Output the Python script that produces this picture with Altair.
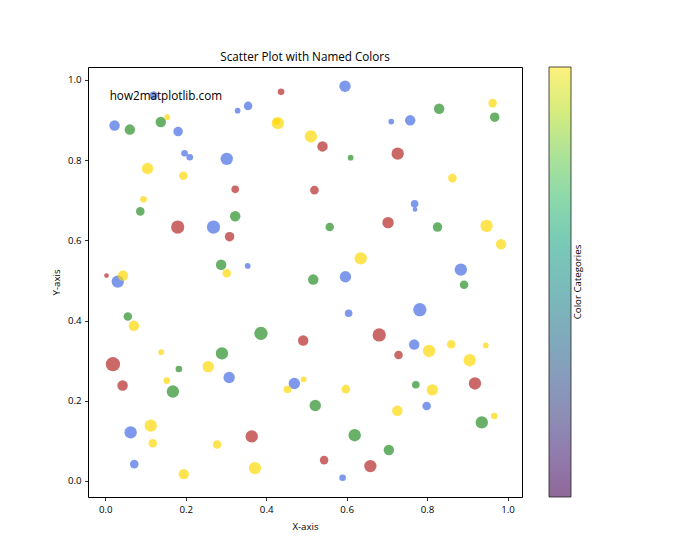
import altair as alt
import pandas as pd

TITLE = "Scatter Plot with Named Colors"
WATERMARK = "how2matplotlib.com"
X_TITLE = "X-axis"
Y_TITLE = "Y-axis"
CB_TITLE = "Color Categories"

red_x = [0.437, 0.323, 0.180, 0.309, 0.003, 0.540, 0.727, 0.520, 0.703, 0.492, 0.019, 0.043, 0.364, 0.681, 0.729, 0.919, 0.544, 0.659]
red_y = [0.970, 0.727, 0.633, 0.609, 0.512, 0.834, 0.816, 0.725, 0.644, 0.350, 0.291, 0.238, 0.111, 0.364, 0.314, 0.243, 0.052, 0.037]
red_s = [52, 68, 207, 106, 26, 128, 179, 86, 152, 128, 238, 128, 179, 207, 86, 179, 86, 179]

blue_x = [0.120, 0.329, 0.355, 0.023, 0.181, 0.197, 0.210, 0.302, 0.269, 0.354, 0.031, 0.308, 0.470, 0.063, 0.072, 0.596, 0.711, 0.758, 0.769, 0.770, 0.884, 0.597, 0.605, 0.782, 0.768, 0.799, 0.590]
blue_y = [0.961, 0.923, 0.935, 0.886, 0.871, 0.817, 0.807, 0.803, 0.633, 0.536, 0.497, 0.258, 0.243, 0.121, 0.042, 0.984, 0.896, 0.899, 0.691, 0.677, 0.527, 0.509, 0.418, 0.427, 0.340, 0.187, 0.008]
blue_s = [86, 38, 86, 128, 106, 52, 52, 179, 207, 38, 179, 152, 152, 179, 86, 152, 38, 128, 68, 26, 179, 152, 68, 207, 128, 86, 52]

green_x = [0.138, 0.061, 0.087, 0.323, 0.288, 0.056, 0.387, 0.290, 0.183, 0.168, 0.830, 0.968, 0.610, 0.558, 0.826, 0.517, 0.892, 0.772, 0.522, 0.936, 0.620, 0.705]
green_y = [0.895, 0.876, 0.672, 0.660, 0.539, 0.410, 0.368, 0.318, 0.279, 0.223, 0.928, 0.907, 0.806, 0.633, 0.633, 0.502, 0.489, 0.240, 0.188, 0.146, 0.114, 0.077]
green_s = [128, 128, 86, 128, 128, 86, 207, 179, 52, 179, 128, 106, 38, 86, 106, 128, 86, 68, 152, 179, 179, 128]

yellow_x = [0.154, 0.429, 0.425, 0.511, 0.105, 0.194, 0.095, 0.302, 0.044, 0.071, 0.139, 0.256, 0.153, 0.453, 0.493, 0.113, 0.118, 0.278, 0.195, 0.372, 0.963, 0.863, 0.948, 0.984, 0.635, 0.805, 0.860, 0.946, 0.906, 0.598, 0.813, 0.726, 0.967]
yellow_y = [0.907, 0.892, 0.896, 0.859, 0.779, 0.761, 0.702, 0.518, 0.512, 0.387, 0.321, 0.285, 0.250, 0.228, 0.253, 0.138, 0.094, 0.091, 0.017, 0.032, 0.942, 0.755, 0.636, 0.590, 0.555, 0.324, 0.341, 0.338, 0.301, 0.229, 0.227, 0.175, 0.162]
yellow_s = [38, 179, 52, 179, 152, 86, 52, 86, 128, 128, 38, 152, 52, 68, 38, 179, 86, 86, 128, 179, 86, 86, 179, 128, 179, 179, 86, 38, 179, 86, 152, 128, 52]

categories = ["firebrick", "royalblue", "forestgreen", "gold"]
cb_values = [0.0, 1.0]

# styles
FONT = "Open Sans"
CAT_COLORS = ["firebrick", "royalblue", "forestgreen", "gold"]
VIRIDIS_FADED = ["#8f6798", "#917cac", "#8d8fb7", "#869fbb", "#7faebb", "#7abdba",
                 "#7acbb5", "#8fd9a9", "#afe397", "#d7ec7d", "#fef17c"]
VIRIDIS_STOPS = [i / 10 for i in range(11)]

frames = []
for cat, xs, ys, ss in [("firebrick", red_x, red_y, red_s), ("royalblue", blue_x, blue_y, blue_s),
                        ("forestgreen", green_x, green_y, green_s), ("gold", yellow_x, yellow_y, yellow_s)]:
    frames.append(pd.DataFrame({"x": xs, "y": ys, "s": ss, "cat": cat}))
df = pd.concat(frames, ignore_index=True)

W, H = 434, 430
CB_X, CB_W = 461, 22
xscale = alt.Scale(domain=[-0.043, 1.036], nice=False, zero=False)
yscale = alt.Scale(domain=[-0.040, 1.032], nice=False, zero=False)

points = alt.Chart(df).mark_circle(opacity=0.68).encode(
    x=alt.X("x:Q", scale=xscale, title=X_TITLE,
            axis=alt.Axis(values=[0, 0.2, 0.4, 0.6, 0.8, 1.0], format=".1f", grid=False, domain=False,
                          tickSize=3.5, tickWidth=0.8, tickColor="black", labelPadding=3.5,
                          titlePadding=8)),
    y=alt.Y("y:Q", scale=yscale, title=Y_TITLE,
            axis=alt.Axis(values=[0, 0.2, 0.4, 0.6, 0.8, 1.0], format=".1f", grid=False, domain=False,
                          tickSize=3.5, tickWidth=0.8, tickColor="black", labelPadding=3.5,
                          titlePadding=6)),
    color=alt.Color("cat:N", scale=alt.Scale(domain=categories, range=CAT_COLORS), legend=None),
    size=alt.Size("s:Q", scale=alt.Scale(type="linear", domain=[0, 240], range=[0, 205], zero=True), legend=None),
)

colorbar = alt.Chart(pd.DataFrame({"v": cb_values})).mark_point(opacity=0, size=0).encode(
    color=alt.Color("v:Q",
                    scale=alt.Scale(domain=VIRIDIS_STOPS, range=VIRIDIS_FADED),
                    legend=alt.Legend(orient="none", legendX=CB_X, legendY=0, direction="vertical",
                                      gradientLength=H, gradientThickness=CB_W,
                                      labelOpacity=0, labelFontSize=1, labelPadding=0,
                                      title=None, gradientStrokeColor="#222",
                                      gradientStrokeWidth=0.8)),
)

cb_label = alt.Chart(pd.DataFrame({"t": [CB_TITLE]})).mark_text(
    angle=270, align="center", baseline="middle", font=FONT, fontSize=9.7, color="black"
).encode(x=alt.value(CB_X + CB_W + 7), y=alt.value(H / 2), text="t:N")

text = alt.Chart(pd.DataFrame({"t": [WATERMARK]})).mark_text(
    align="left", baseline="top", font=FONT, fontSize=11.7, color="black"
).encode(x=alt.value(0.05 * W), y=alt.value(0.05 * H + 2), text="t:N")

chart = alt.layer(points, colorbar, cb_label, text).resolve_scale(color="independent").properties(
    width=W, height=H,
    title=alt.TitleParams(TITLE, font=FONT, fontSize=11.7, fontWeight="normal", color="black",
                          anchor="middle", offset=3),
    autosize=alt.AutoSizeParams(type="none"),
    padding={"left": 88, "top": 67, "right": 178, "bottom": 63},
    background="white",
).configure_view(stroke="black", strokeWidth=1).configure_axis(
    labelFont=FONT, labelFontSize=9.7, labelColor="black",
    titleFont=FONT, titleFontSize=9.7, titleFontWeight="normal", titleColor="black",
)

chart.save("out.html", embed_options={"renderer": "svg", "actions": False})
